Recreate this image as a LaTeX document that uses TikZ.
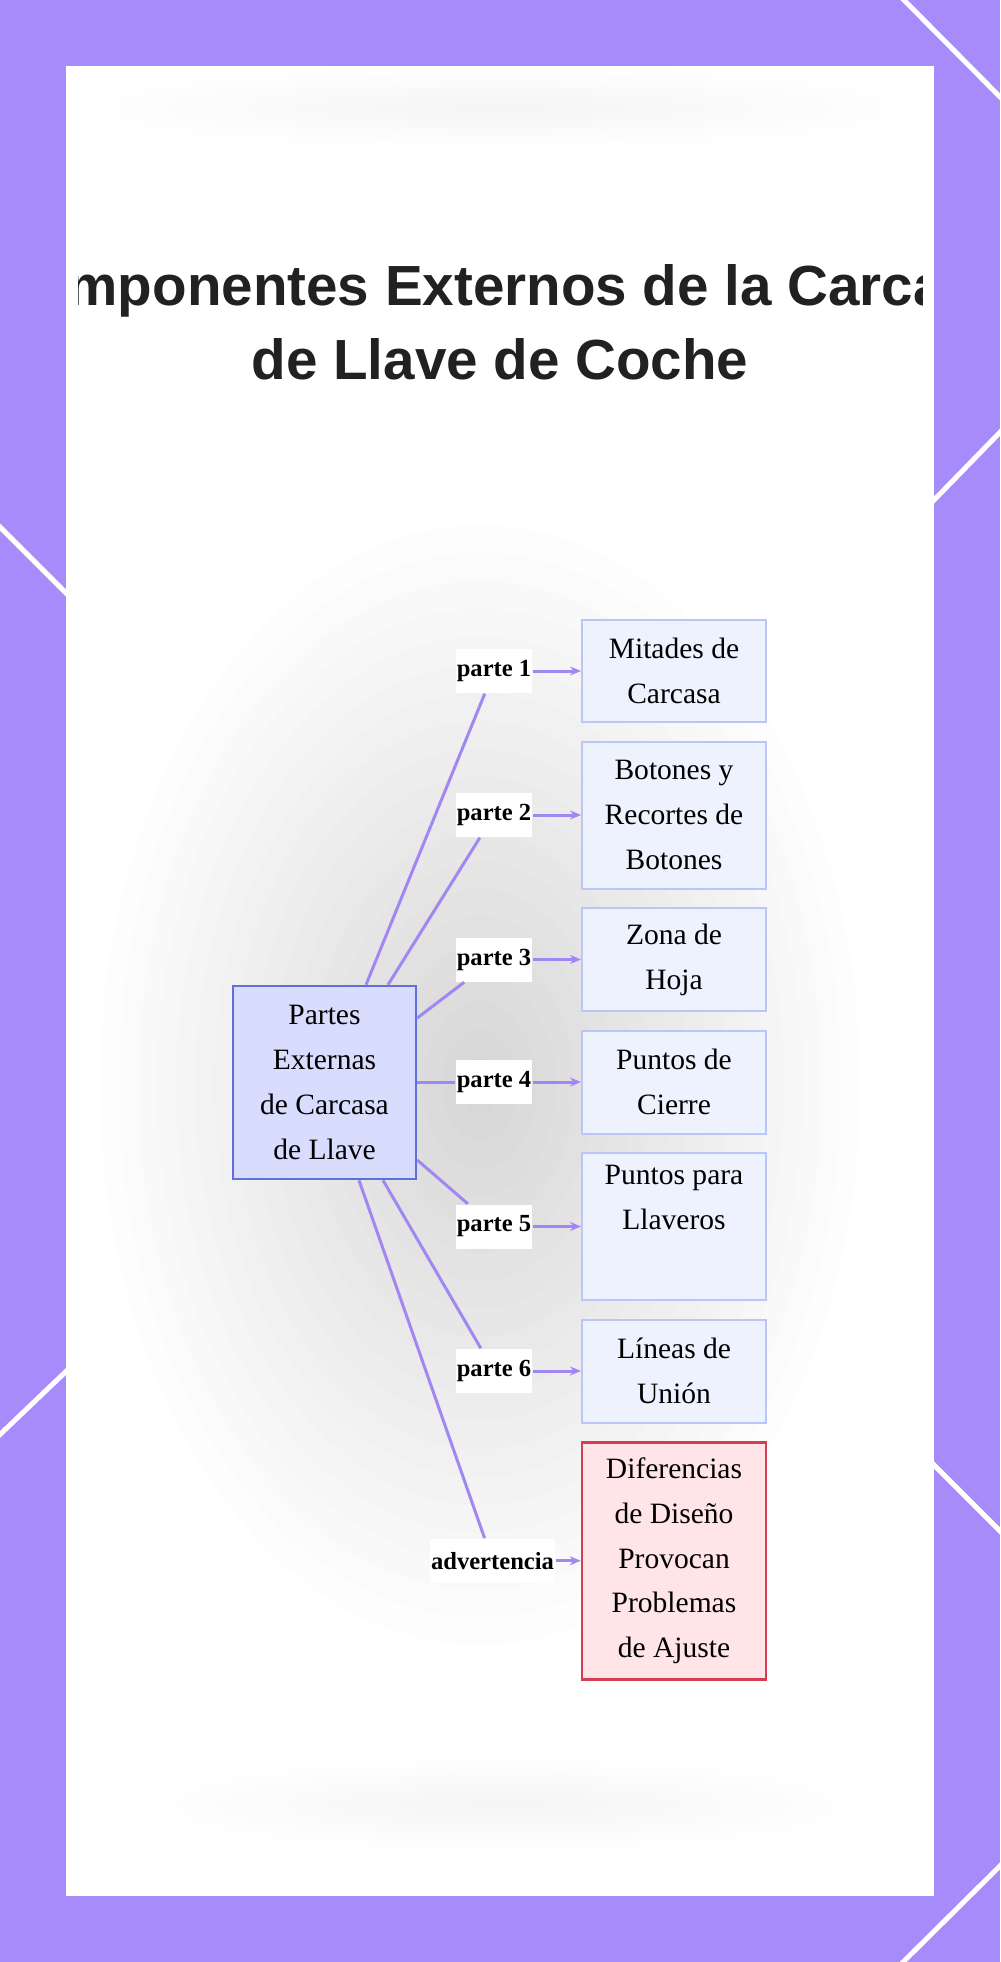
\documentclass[tikz,border=0pt]{standalone}
\usepackage{fontspec}
\setmainfont{Liberation Serif}
\newfontfamily\titlefont{Liberation Sans}
\usetikzlibrary{arrows.meta,positioning,calc}
\definecolor{bgpurple}{RGB}{167,139,250}
\definecolor{edgepurple}{RGB}{162,134,242}
\definecolor{hubfill}{RGB}{216,220,253}
\definecolor{hubdraw}{RGB}{96,112,216}
\definecolor{partfill}{RGB}{238,241,254}
\definecolor{partdraw}{RGB}{188,198,246}
\definecolor{warnfill}{RGB}{255,228,232}
\definecolor{warndraw}{RGB}{212,62,80}
\tikzset{
  hub/.style={draw=hubdraw, fill=hubfill, line width=0.25mm, minimum width=18.3mm,
    minimum height=19.3mm, inner sep=0pt, align=center, font=\fontsize{8.4}{12.8}\selectfont},
  part/.style={draw=partdraw, fill=partfill, line width=0.2mm, minimum width=18.4mm,
    minimum height=10.3mm, inner sep=0pt, align=center, font=\fontsize{8.4}{12.8}\selectfont},
  warn/.style={part, draw=warndraw, fill=warnfill, line width=0.25mm},
  elab/.style={fill=white, inner xsep=0.1mm, inner ysep=0pt, minimum height=4.4mm,
    font=\fontsize{7}{10}\selectfont\bfseries},
  link/.style={edgepurple, line width=0.3mm},
  arr/.style={-{Stealth[length=1.1mm, width=0.9mm]}, edgepurple, line width=0.3mm},
  deco/.style={white, line width=0.5mm},
  ttl/.style={align=center, text=black!87, font=\titlefont\bfseries\fontsize{16.1}{21}\selectfont},
}

\begin{document}
\begin{tikzpicture}[x=0.1mm, y=-0.1mm]
  \useasboundingbox (0,0) rectangle (1000,1962);
  % frame
  \fill[bgpurple] (0,0) rectangle (1000,1962);
  \draw[deco] (894,-10) -- (1010,107) (1010,422) -- (900,535) (900,1431) -- (1010,1541)
    (1010,1856) -- (893,1972) (-10,517) -- (100,627) (-10,1444) -- (100,1339);
  \fill[white] (66,66) rectangle (934,1896);
  % soft grey haze behind the diagram
  \begin{scope}
    \clip (66,66) rectangle (934,1896);
    \foreach \k in {1,...,20}
      \fill[black, opacity=0.006] (480,1085) ellipse [x radius={19*\k}, y radius={28*\k}];
    \foreach \k in {1,...,10}
      \fill[black, opacity=0.0025] (500,108) ellipse [x radius={42*\k}, y radius={4*\k}];
    \foreach \k in {1,...,10}
      \fill[black, opacity=0.0025] (505,1805) ellipse [x radius={36*\k}, y radius={4.5*\k}];
  \end{scope}
  % title
  \begin{scope}
    \clip (78,66) rectangle (922,420);
    \node[ttl] (title) at (500,322) {Componentes Externos de la Carcasa\\de Llave de Coche};
  \end{scope}
  % nodes
  \node[hub] (hub) at (324.5,1082.5) {Partes\\Externas\\de Carcasa\\de Llave};
  \node[part, minimum height=10.2mm] (box1) at (674,671) {Mitades de\\Carcasa};
  \node[part, minimum height=14.7mm, below=1.75mm of box1] (box2) {Botones y\\Recortes de\\Botones};
  \node[part, below=1.75mm of box2] (box3) {Zona de\\Hoja};
  \node[part, below=1.75mm of box3] (box4) {Puntos de\\Cierre};
  \node[part, minimum height=14.7mm, below=1.75mm of box4] (box5) {Puntos para\\Llaveros\\\strut};
  \node[part, below=1.75mm of box5] (box6) {L\'ineas de\\Uni\'on};
  \node[warn, minimum height=23.7mm, below=1.75mm of box6] (box7) {Diferencias\\de Dise\~no\\Provocan\\Problemas\\de Ajuste};
  % edge labels
  \coordinate (lx) at (494,0);
  \foreach \i in {1,...,6}
    \node[elab] (lab\i) at (lx |- box\i) {parte \i};
  \node[elab] (lab7) at ($(lx |- box7)+(-1.5,0)$) {advertencia};
  % connectors
  \draw[link] ($(hub.north)+(41.5,0)$) -- (lab1);
  \draw[link] ($(hub.north)+(63.5,0)$) -- (lab2);
  \draw[link] ($(hub.east)+(0,-64.5)$) -- (lab3);
  \draw[link] (hub.east |- lab4) -- (lab4);
  \draw[link] ($(hub.east)+(0,77.5)$) -- (lab5);
  \draw[link] ($(hub.south)+(58.5,0)$) -- (lab6);
  \draw[link] ($(hub.south)+(34.5,0)$) -- (lab7);
  \foreach \i in {1,...,7}
    \draw[arr] (lab\i) -- (box\i);
\end{tikzpicture}
\end{document}
